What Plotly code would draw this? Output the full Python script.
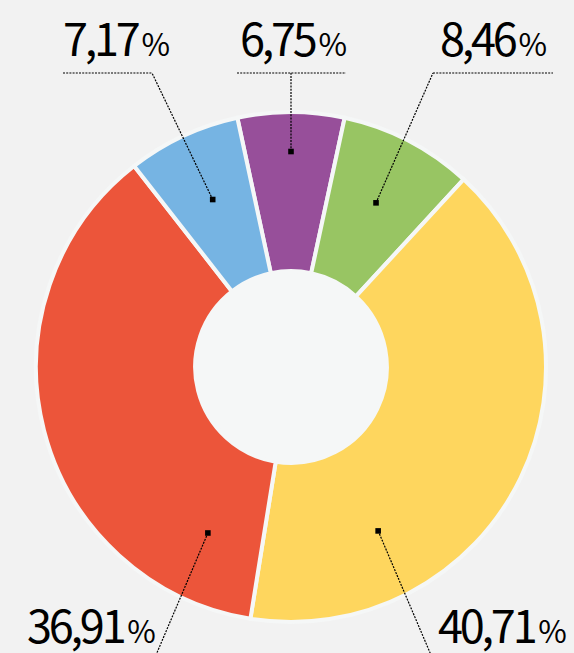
import math
import plotly.graph_objects as go

# ---- data ----
labels = ["Purple", "Green", "Yellow", "Red", "Blue"]
values = [6.75, 8.46, 40.71, 36.91, 7.17]
value_text = ["6,75", "8,46", "40,71", "36,91", "7,17"]
colors = ["#974F9A", "#98C563", "#FED65E", "#EC553A", "#76B4E3"]

# ---- layout constants (pixels) ----
W, H = 574, 653
CX, CY, R = 291, 367, 255
HOLE = 0.376
BG = "#F2F2F2"
HOLE_BG = "#F5F7F7"

total = sum(values)
rotation = -values[0] / total * 360 / 2

def px(x):
    return x / W

def py(y):
    return 1 - y / H

# leader marker placement (style): radial fraction and optional angle override
leader_r = [0.845, 0.725, 0.728, 0.728, 0.725]
leader_angle = [None, None, 152.0, 206.6, None]

# label text anchor (left x of text, baseline y) and leader line end points
label_pos = [(238, 60), (438, 60), (436, 647), (25, 647), (61, 60)]
underline = [(237, 346), (433, 553), None, None, (63, 152)]
line_end = [None, (433, 73), (431, 655), (156, 655), (152, 73)]

FONT = "Noto Sans CJK JP, Noto Sans, sans-serif"
NUM_STYLE = "font-variant-numeric:proportional-nums;font-kerning:normal;letter-spacing:-3.2px"

fig = go.Figure()
fig.add_trace(go.Pie(
    labels=labels, values=values, sort=False, direction="clockwise",
    rotation=rotation, hole=HOLE, textinfo="none", hoverinfo="label+percent",
    marker=dict(colors=colors, line=dict(color=HOLE_BG, width=4)),
    domain=dict(x=[px(CX - R), px(CX + R)], y=[py(CY + R), py(CY - R)]),
    showlegend=False,
))

shapes = []
annotations = []
# hole fill
hr = R * HOLE
shapes.append(dict(type="circle", xref="paper", yref="paper", layer="below",
                   x0=px(CX - hr), x1=px(CX + hr), y0=py(CY + hr), y1=py(CY - hr),
                   fillcolor=HOLE_BG, line=dict(width=0)))

cum = 0.0
dash = "2px,1.2px"
for i, v in enumerate(values):
    mid = rotation + (cum + v / 2) / total * 360
    cum += v
    ang = leader_angle[i] if leader_angle[i] is not None else mid
    a = math.radians(ang)
    mx = CX + leader_r[i] * R * math.sin(a)
    my = CY - leader_r[i] * R * math.cos(a)
    s = 2.8
    shapes.append(dict(type="rect", xref="paper", yref="paper",
                       x0=px(mx - s), x1=px(mx + s), y0=py(my + s), y1=py(my - s),
                       fillcolor="black", line=dict(width=0)))
    if underline[i] is not None:
        ux0, ux1 = underline[i]
        shapes.append(dict(type="line", xref="paper", yref="paper",
                           x0=px(ux0), x1=px(ux1), y0=py(73), y1=py(73),
                           line=dict(color="black", width=1.2, dash=dash)))
    if line_end[i] is None:
        ex, ey = mx, 73
    else:
        ex, ey = line_end[i]
    shapes.append(dict(type="line", xref="paper", yref="paper",
                       x0=px(mx), x1=px(ex), y0=py(my), y1=py(ey),
                       line=dict(color="black", width=1.2, dash=dash)))
    lx, ly = label_pos[i]
    annotations.append(dict(
        xref="paper", yref="paper", x=px(lx), y=py(ly + 11),
        xanchor="left", yanchor="bottom", showarrow=False,
        text=('<span style="' + NUM_STYLE + '">' + value_text[i] + '</span>'
              + '<span style="font-size:31px">&#8202;&#8202;%</span>'),
        font=dict(family=FONT, size=45, color="black"),
    ))

fig.update_layout(
    width=W, height=H, margin=dict(l=0, r=0, t=0, b=0),
    paper_bgcolor=BG, plot_bgcolor=BG,
    shapes=shapes, annotations=annotations,
)
fig.write_html("out.html")
